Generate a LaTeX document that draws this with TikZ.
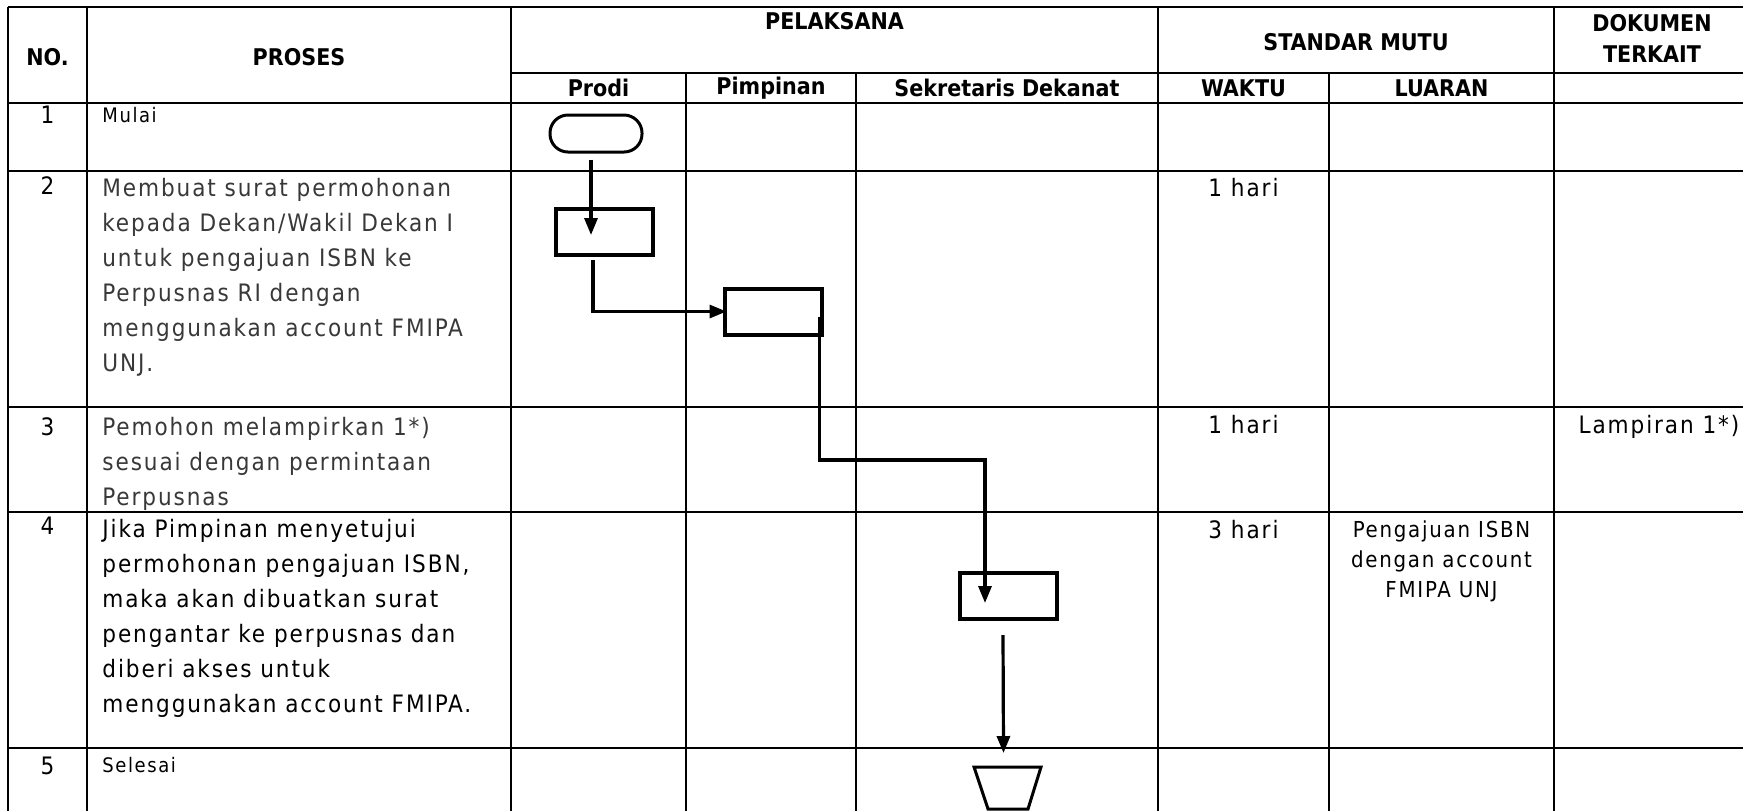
\documentclass[tikz,border=0pt]{standalone}
\usepackage{fontspec}
\setmainfont{DejaVuSansCondensed.ttf}[BoldFont=DejaVuSansCondensed-Bold.ttf,LetterSpace=8,BoldFeatures={LetterSpace=0}]
\usetikzlibrary{arrows.meta,calc}

\begin{document}
\begin{tikzpicture}[x=0.5pt,y=-0.5pt,every node/.style={inner sep=0pt},
  garis/.style={line width=1.1pt},
  baris/.style={line width=1.4pt},
  judul/.style={font=\fontsize{11.5}{15.5}\selectfont\bfseries,align=center},
  kecil/.style={font=\fontsize{10}{14}\selectfont},
  isi/.style={font=\fontsize{12}{17.5}\selectfont,align=left,anchor=north west},
  kolom/.style={font=\fontsize{12}{15}\selectfont,align=center,anchor=north},
  kotak/.style={draw,line width=2pt,minimum width=48.5pt,minimum height=23pt},
  alur/.style={line width=1.6pt,-{Triangle[length=8.5pt,width=6.5pt]}}]
  \useasboundingbox (0,0) rectangle (1743,811);
  \draw[baris] (8,7)--(1743,7) (511,73)--(1743,73) (8,103)--(1743,103)
    (8,171)--(1743,171) (8,407)--(1743,407) (8,512)--(1743,512) (8,748)--(1743,748);
  \draw[garis] (8,7)--(8,811) (87,7)--(87,811) (511,7)--(511,811)
    (1158,7)--(1158,811) (1554,7)--(1554,811)
    (686,73)--(686,811) (856,73)--(856,811) (1329,73)--(1329,811);
  \node[judul] (hno) at (47.5,57) {NO.};
  \node[judul] (hproses) at (299,57) {PROSES};
  \node[judul] (hpelaksana) at (834.5,21) {PELAKSANA};
  \node[judul] (hmutu) at (1356,42) {STANDAR MUTU};
  \node[judul] (hdokumen) at (1652,38) {DOKUMEN\\TERKAIT};
  \node[judul] (hprodi) at (598.5,88) {Prodi};
  \node[judul] (hpimpinan) at (771,88) {Pimpinan};
  \node[judul] (hsekdek) at (1007,88) {Sekretaris Dekanat};
  \node[judul] (hwaktu) at (1243.5,88) {WAKTU};
  \node[judul] (hluaran) at (1441.5,88) {LUARAN};
  \node[kolom] (no1) at (47.5,106) {1};
  \node[kolom] (no2) at (47.5,176) {2};
  \node[kolom] (no3) at (47.5,417) {3};
  \node[kolom] (no4) at (47.5,517) {4};
  \node[kolom] (no5) at (47.5,757) {5};
  \node[kecil,anchor=north west] (p1) at (102,107) {Mulai};
  \node[isi,black!78] (p2) at (102,178) {Membuat surat permohonan\\kepada Dekan/Wakil Dekan I\\untuk pengajuan ISBN ke\\Perpusnas RI dengan\\menggunakan account FMIPA\\UNJ.};
  \node[isi,black!78] (p3) at (102,417) {Pemohon melampirkan 1*)\\sesuai dengan permintaan\\Perpusnas};
  \node[isi] (p4) at (102,519) {Jika Pimpinan menyetujui\\permohonan pengajuan ISBN,\\maka akan dibuatkan surat\\pengantar ke perpusnas dan\\diberi akses untuk\\menggunakan account FMIPA.};
  \node[kecil,anchor=north west] (p5) at (102,757) {Selesai};
  \node[kolom] (w2) at (1243.5,178) {1 hari};
  \node[kolom] (w3) at (1243.5,415) {1 hari};
  \node[kolom] (w4) at (1243.5,520) {3 hari};
  \node[kolom,font=\fontsize{11}{15}\selectfont] (l4) at (1441.5,520) {Pengajuan ISBN\\dengan account\\FMIPA UNJ};
  \node[kolom] (d3) at (1659,415) {Lampiran 1*)};
  \node[draw,line width=1.5pt,rounded corners=9pt,minimum width=46pt,minimum height=18.5pt] (mulai) at (596,133.5) {};
  \node[kotak] (kotak1) at (604.5,232) {};
  \node[kotak] (kotak2) at (773,311.5) {};
  \node[kotak] (kotak3) at (1008.5,596) {};
  \coordinate (selesai) at (1007.5,767);
  \draw[line width=1.5pt] (974,767)--(1041,767)--(1028,809)--(988,809)--cycle;
  \coordinate (belok) at (985,460);
  \draw[alur] ($(mulai.south)+(-5,6)$) -- ($(kotak1.center)+(-13.5,3)$);
  \draw[alur] ($(kotak1.south)+(-11.5,3)$) |- ($(kotak2.west)+(4,0)$);
  \draw[alur] ($(kotak2.east)+(-4,5.5)$) |- (belok) -- ($(kotak3.center)+(-23.5,7)$);
  \draw[alur] ($(kotak3.south)+(-5.5,14)$) -- ($(selesai)+(-4,-14)$);
\end{tikzpicture}
\end{document}
